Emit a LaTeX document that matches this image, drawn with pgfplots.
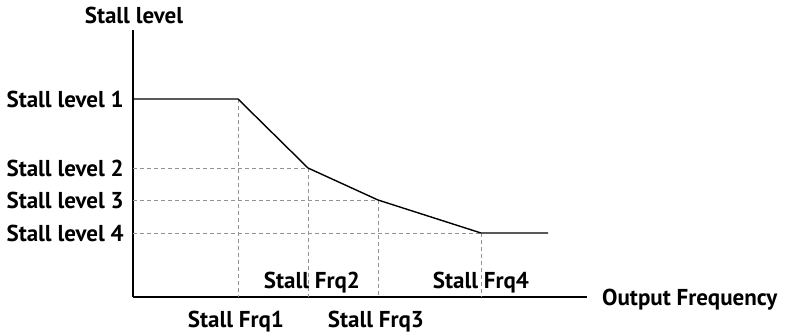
\documentclass[border=0pt]{standalone}
\usepackage{pgfplots}
\pgfplotsset{compat=1.18}
\usepackage{fontspec}
\setmainfont{PT Sans}
\tikzset{lbl/.style={font=\fontsize{23}{25}\selectfont\bfseries, inner sep=0pt}}
\begin{document}
\begin{tikzpicture}[x=1pt,y=1pt]
\useasboundingbox (0,0) rectangle (796,335);
\begin{axis}[
  at={(133pt,38pt)}, anchor=south west,
  scale only axis, width=454pt, height=267pt,
  xmin=0, xmax=454, ymin=0, ymax=267,
  axis lines=left, axis line style={line width=2.4pt, -},
  xtick=\empty, ytick=\empty,
  clip=false,
]
\pgfplotsset{dsh/.style={gray!85, line width=0.9pt, dash pattern=on 4pt off 3pt, forget plot}}
\addplot[dsh] coordinates {(105,198) (105,0)};
\addplot[dsh] coordinates {(175,129) (175,0)};
\addplot[dsh] coordinates {(245,97) (245,0)};
\addplot[dsh] coordinates {(348,64) (348,0)};
\addplot[dsh] coordinates {(0,129) (175,129)};
\addplot[dsh] coordinates {(0,97) (245,97)};
\addplot[dsh] coordinates {(0,64) (348,64)};
\addplot[black, line width=1.4pt] coordinates {(0,198) (105,198) (175,129) (245,97) (348,64) (415,64)};
\node[lbl] at (axis cs:1,282) {Stall level};
\node[lbl,anchor=east] at (axis cs:-9,198) {Stall level 1};
\node[lbl,anchor=east] at (axis cs:-9,129) {Stall level 2};
\node[lbl,anchor=east] at (axis cs:-9,97) {Stall level 3};
\node[lbl,anchor=east] at (axis cs:-9,64) {Stall level 4};
\node[lbl] at (axis cs:103,-25) {Stall Frq1};
\node[lbl] at (axis cs:179,14) {Stall Frq2};
\node[lbl] at (axis cs:243,-25) {Stall Frq3};
\node[lbl] at (axis cs:348,14) {Stall Frq4};
\node[lbl,anchor=west] at (axis cs:469,-3) {Output Frequency};
\end{axis}
\end{tikzpicture}
\end{document}
